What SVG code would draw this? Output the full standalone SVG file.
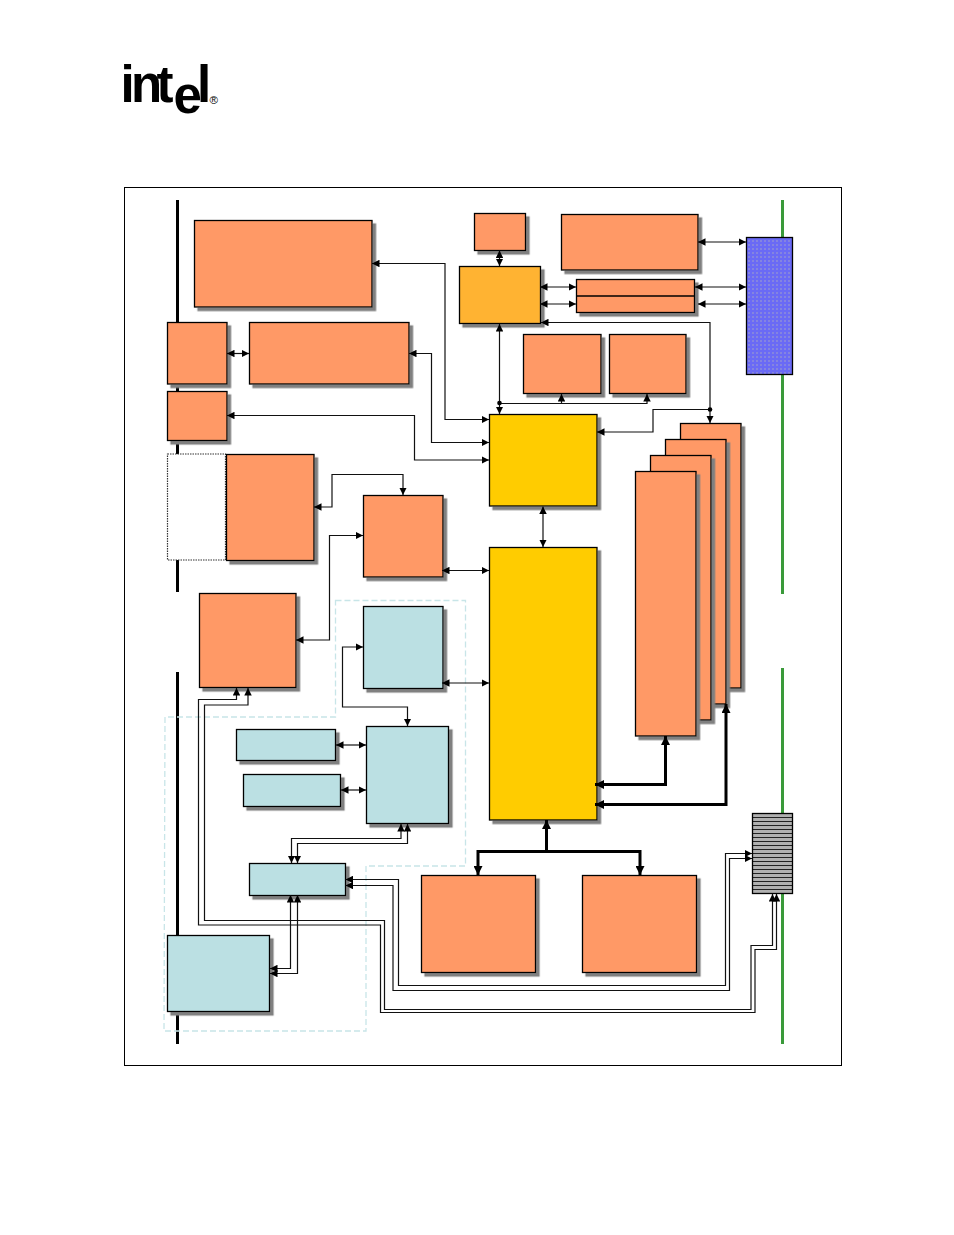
<svg xmlns="http://www.w3.org/2000/svg" width="954" height="1235" viewBox="0 0 954 1235">
<style>
.n{stroke:#000;stroke-width:1.3}
.o{fill:#ff9966}.b{fill:#bbe0e3}.y{fill:#ffcc00}.a{fill:#ffb332}
.c{fill:none;stroke:#111;stroke-width:1.2}
.t{fill:none;stroke:#000;stroke-width:3}
.logo{font-family:"Liberation Sans",Arial,sans-serif;font-weight:700;fill:#000}
</style>
<defs>
<filter id="s" x="-10%" y="-10%" width="130%" height="130%"><feDropShadow dx="3.5" dy="3.5" stdDeviation="0" flood-color="#808080"/></filter>
<marker id="h" viewBox="0 0 7 7" refX="7" refY="3.5" markerWidth="7.500" markerHeight="7.500" markerUnits="userSpaceOnUse" orient="auto-start-reverse"><path d="M0 0L7 3.5L0 7Z" fill="#000"/></marker>
<marker id="ht" viewBox="0 0 8 8" refX="8" refY="4" markerWidth="9" markerHeight="9" markerUnits="userSpaceOnUse" orient="auto-start-reverse"><path d="M0 0L8 4L0 8Z" fill="#000"/></marker>
<pattern id="stripe" width="4" height="4" patternUnits="userSpaceOnUse" x="0" y="814"><rect width="4" height="4" fill="#b0b0b0"/><rect width="4" height="1" y="3" fill="#222"/></pattern>
<pattern id="dots" width="4" height="4" patternUnits="userSpaceOnUse"><rect width="4" height="4" fill="#6a6af5"/><rect width="2" height="2" fill="#8484e0"/></pattern>
</defs>
<rect width="954" height="1235" fill="#fff"/>
<g id="logo"><text class="logo" font-size="51" x="120.500 131 156.500 173.500 197" y="102 102 102 113 102">intel</text><text x="209.500" y="104" font-size="11.500" font-family="Liberation Sans,sans-serif" fill="#000">®</text></g>
<rect id="frame" x="124.500" y="187.500" width="717" height="878" fill="#fff" stroke="#000" stroke-width="1"/>
<g id="rails">
<path d="M177.500 200V592M177.500 672V1044" stroke="#000" stroke-width="3" fill="none"/>
<path d="M782.500 200V594M782.500 668V1044" stroke="#3a9a3a" stroke-width="3" fill="none"/>
</g>
<path id="region" d="M335.500 600.500H465.500V866H366V1031H164L165 717H335.500Z" fill="none" stroke="#c8e5e8" stroke-width="1.300" stroke-dasharray="6 3"/>
<g id="nodes">
<g id="n1"><rect class="n o" filter="url(#s)" x="194.500" y="220.500" width="177.500" height="86.500"/></g>
<g id="n2"><rect class="n o" filter="url(#s)" x="474.500" y="213.500" width="51" height="37"/></g>
<g id="n3"><rect class="n o" filter="url(#s)" x="561.500" y="214.500" width="136.500" height="55.500"/></g>
<g id="n4"><rect class="n" fill="url(#dots)" x="746.500" y="237.500" width="46" height="137"/></g>
<g id="n5"><rect class="n a" filter="url(#s)" x="459.500" y="266.500" width="81" height="57"/></g>
<g id="n6"><rect class="n o" filter="url(#s)" x="576.500" y="279.500" width="118" height="33"/><path d="M576.500 296H694.500" stroke="#000" stroke-width="1.600"/></g>
<g id="n7"><rect class="n o" filter="url(#s)" x="523.500" y="334.500" width="77.500" height="59"/></g>
<g id="n8"><rect class="n o" filter="url(#s)" x="609.500" y="334.500" width="76.500" height="59"/></g>
<g id="n9"><rect class="n o" filter="url(#s)" x="167.500" y="322.500" width="59.500" height="61.500"/></g>
<g id="n10"><rect class="n o" filter="url(#s)" x="249.500" y="322.500" width="159.500" height="61.500"/></g>
<g id="n11"><rect class="n o" filter="url(#s)" x="167.500" y="391.500" width="59.500" height="49"/></g>
<g id="n12"><rect x="167.500" y="454" width="58" height="106" fill="#fff" stroke="#333" stroke-width="1.200" stroke-dasharray="1.500 1"/></g>
<g id="n13"><rect class="n o" filter="url(#s)" x="226.500" y="454.500" width="87.500" height="106"/></g>
<g id="n14"><rect class="n o" filter="url(#s)" x="363.500" y="495.500" width="79.500" height="81.500"/></g>
<g id="n15"><rect class="n y" filter="url(#s)" x="489.500" y="414.500" width="107.500" height="91.500"/></g>
<g id="n16"><rect class="n y" filter="url(#s)" x="489.500" y="547.500" width="107.500" height="272.500"/></g>
<g id="n17"><rect class="n o" filter="url(#s)" x="680.500" y="423.500" width="60.500" height="264.500"/></g>
<g id="n18"><rect class="n o" filter="url(#s)" x="665.500" y="439.500" width="60.500" height="264.500"/></g>
<g id="n19"><rect class="n o" filter="url(#s)" x="650.500" y="455.500" width="60.500" height="264.500"/></g>
<g id="n20"><rect class="n o" filter="url(#s)" x="635.500" y="471.500" width="60.500" height="264.500"/></g>
<g id="n21"><rect class="n o" filter="url(#s)" x="199.500" y="593.500" width="96.500" height="94"/></g>
<g id="n22"><rect class="n b" filter="url(#s)" x="363.500" y="606.500" width="79.500" height="82"/></g>
<g id="n23"><rect class="n b" filter="url(#s)" x="236.500" y="729.500" width="99" height="31"/></g>
<g id="n24"><rect class="n b" filter="url(#s)" x="243.500" y="774.500" width="97" height="32"/></g>
<g id="n25"><rect class="n b" filter="url(#s)" x="366.500" y="726.500" width="82" height="97"/></g>
<g id="n26"><rect class="n b" filter="url(#s)" x="249.500" y="863.500" width="96" height="32"/></g>
<g id="n27"><rect class="n b" filter="url(#s)" x="167.500" y="935.500" width="102" height="76"/></g>
<g id="n28"><rect class="n o" filter="url(#s)" x="421.500" y="875.500" width="114" height="97"/></g>
<g id="n29"><rect class="n o" filter="url(#s)" x="582.500" y="875.500" width="114" height="97"/></g>
<g id="n30"><rect class="n" fill="url(#stripe)" x="752.500" y="813.500" width="40" height="80"/></g>
</g>
<g id="connectors">
<path class="c" marker-start="url(#h)" marker-end="url(#h)" d="M372 263.500H445V419.500H489"/>
<path class="c" marker-start="url(#h)" marker-end="url(#h)" d="M409 353.500H431.500V442.500H489"/>
<path class="c" marker-start="url(#h)" marker-end="url(#h)" d="M227 415.500H414.500V460H489"/>
<path class="c" marker-start="url(#h)" marker-end="url(#h)" d="M227 353.500H249"/>
<path class="c" marker-start="url(#h)" marker-end="url(#h)" d="M499.500 250.500V266"/>
<path class="c" marker-start="url(#h)" marker-end="url(#h)" d="M698 242H746"/>
<path class="c" marker-start="url(#h)" marker-end="url(#h)" d="M540 287H576"/>
<path class="c" marker-start="url(#h)" marker-end="url(#h)" d="M540 304H576"/>
<path class="c" marker-start="url(#h)" marker-end="url(#h)" d="M695 287H746"/>
<path class="c" marker-start="url(#h)" marker-end="url(#h)" d="M698 304H746"/>
<path class="c" marker-start="url(#h)" marker-end="url(#h)" d="M541 322.500H710V423"/>
<path class="c" marker-start="url(#h)" marker-end="url(#h)" d="M499.500 324V414"/>
<path class="c" marker-start="url(#h)" marker-end="url(#h)" d="M543 506.500V547"/>
<path class="c" marker-start="url(#h)" marker-end="url(#h)" d="M442 570.500H489"/>
<path class="c" marker-start="url(#h)" marker-end="url(#h)" d="M442 683H489"/>
<path class="c" marker-start="url(#h)" marker-end="url(#h)" d="M314 507H332V474.500H403V495"/>
<path class="c" marker-start="url(#h)" marker-end="url(#h)" d="M296 640H329.500V535.500H363"/>
<path class="c" marker-start="url(#h)" marker-end="url(#h)" d="M363 647H342.500V707H407.500V726"/>
<path class="c" marker-start="url(#h)" marker-end="url(#h)" d="M336 745H366"/>
<path class="c" marker-start="url(#h)" marker-end="url(#h)" d="M341 790H366"/>
<path class="c" marker-start="url(#h)" marker-end="url(#h)" d="M291.500 863V838.500H401V824"/>
<path class="c" marker-start="url(#h)" marker-end="url(#h)" d="M297.500 863V843.500H407.500V824"/>
<path class="c" marker-start="url(#h)" marker-end="url(#h)" d="M290.500 895V968.500H270"/>
<path class="c" marker-start="url(#h)" marker-end="url(#h)" d="M297.500 895V973.500H270"/>
<path class="c" marker-start="url(#h)" marker-end="url(#h)" d="M236.500 688V699.500H198.500V925H380.500V1012.500H755V949.500H776.500V894"/>
<path class="c" marker-start="url(#h)" marker-end="url(#h)" d="M248 688V705H204.500V920.500H384.500V1009.500H751V945.500H772.500V894"/>
<path class="c" marker-start="url(#h)" marker-end="url(#h)" d="M345.500 879.500H398.500V985.500H725.500V853.500H752"/>
<path class="c" marker-start="url(#h)" marker-end="url(#h)" d="M345.500 885.500H393V990.500H729.500V858.500H752"/>
<path class="c" marker-end="url(#h)" d="M710 409.500H653V432H597"/>
<path class="c" marker-end="url(#h)" d="M499.500 403.500H561.500V394"/>
<path class="c" marker-end="url(#h)" d="M561 403.500H647V394"/>
<circle cx="499.500" cy="403" r="2.300" fill="#000"/><circle cx="710" cy="409.500" r="2.300" fill="#000"/>
<path class="t" marker-start="url(#ht)" marker-end="url(#ht)" d="M595 784.500H665.500V736"/>
<path class="t" marker-start="url(#ht)" marker-end="url(#ht)" d="M595 804.500H726V704"/>
<path class="t" marker-start="url(#ht)" marker-end="url(#ht)" d="M478 875V851.500H640V875"/>
<path class="t" marker-end="url(#ht)" d="M546.500 851.500V820"/>
</g>
</svg>
